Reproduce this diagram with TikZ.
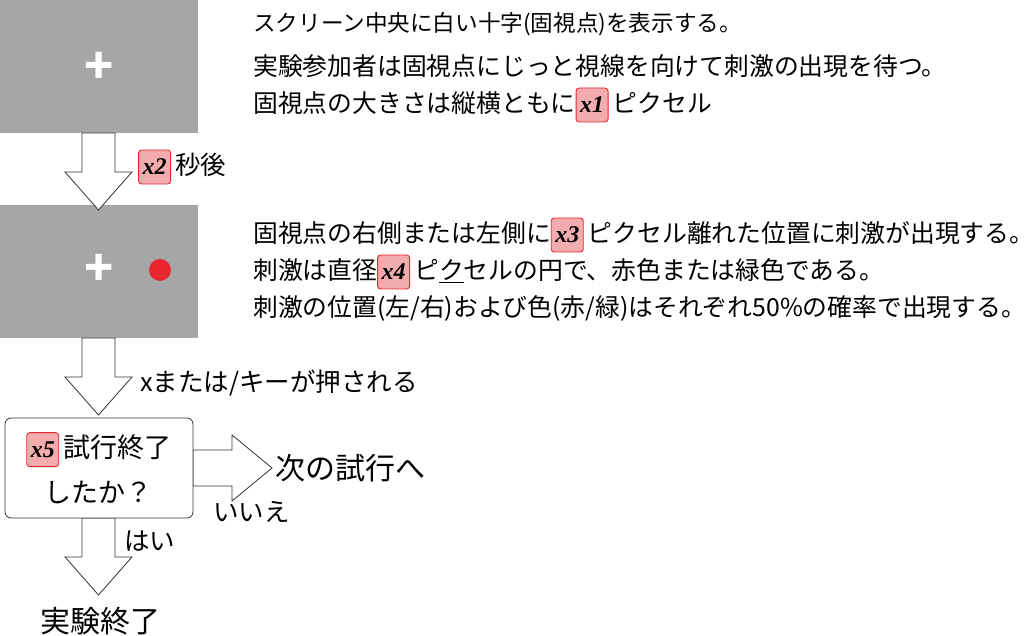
\documentclass[tikz,border=0pt]{standalone}
\usepackage{fontspec}
\setmainfont{Noto Sans CJK JP}
\newfontfamily\badgefont{Liberation Serif}
\usetikzlibrary{positioning}
\definecolor{screengray}{HTML}{A6A6A6}
\definecolor{badgepink}{HTML}{F2ACAE}
\definecolor{badgered}{HTML}{E8262D}
\newcommand{\badge}[1]{\tikz[baseline=(b.base)]\node (b) [draw=badgered, fill=badgepink,
  line width=0.9pt, rounded corners=3pt, inner sep=4pt, minimum width=0pt, minimum height=34pt,
  font=\badgefont\bfseries\itshape\fontsize{24}{24}\selectfont] {#1};}
\newcommand{\downblock}[2]{% x center, y top (tip at +77)
  \draw[blockarrow] (#1-16.5,#2) -- (#1+16.5,#2) -- (#1+16.5,#2+39) -- (#1+33.5,#2+39)
    -- (#1,#2+77) -- (#1-33.5,#2+39) -- (#1-16.5,#2+39) -- cycle;}
\begin{document}
\begin{tikzpicture}[x=1pt,y=-1pt,
  blockarrow/.style={draw=black!80, fill=white, line width=0.8pt},
  screen/.style={fill=screengray, draw=none},
  desc/.style={anchor=west, font=\fontsize{24.8}{28}\selectfont, inner sep=0pt},
  lbl/.style={anchor=west, font=\fontsize{25.5}{28}\selectfont, inner sep=0pt}]
  \useasboundingbox (0,0) rectangle (1034,636);

  % screens
  \fill[screen] (0,0) rectangle (198,133);
  \fill[screen] (0,205) rectangle (198,338);
  \node (fix1) [text=white, font=\fontsize{48}{48}\selectfont\bfseries] at (99,68) {+};
  \node (fix2) [text=white, font=\fontsize{48}{48}\selectfont\bfseries] at (99,270) {+};
  \fill[badgered] (160,270) circle (11);

  % flow arrows
  \downblock{98.5}{133}
  \downblock{98.5}{338}
  \downblock{98.5}{518}
  \draw[blockarrow] (193,450) -- (232,450) -- (232,435) -- (272,468) -- (232,501)
    -- (232,486) -- (193,486) -- cycle;

  % decision box
  \node (check) [draw=black!80, line width=0.8pt, rounded corners=6pt, fill=white,
    minimum width=188pt, minimum height=100pt, align=center,
    font=\fontsize{27}{45}\selectfont] at (99,468) {\badge{x5}\,試行終了\\したか？};

  % labels
  \node (wait) [lbl] at (138,167) {\badge{x2}\,秒後};
  \node (key) [lbl] at (140,383) {xまたは/キーが押される};
  \node (next) [lbl, font=\fontsize{30}{32}\selectfont] at (275,468) {次の試行へ};
  \node (no) [lbl] at (213,512) {いいえ};
  \node (yes) [lbl] at (124,541) {はい};
  \node (finish) [lbl, font=\fontsize{30}{32}\selectfont] at (40,621) {実験終了};

  % descriptions
  \node (d1) [desc, font=\fontsize{22.6}{26}\selectfont] at (253,24) {スクリーン中央に白い十字(固視点)を表示する。};
  \node (d2) [desc] at (253,66) {実験参加者は固視点にじっと視線を向けて刺激の出現を待つ。};
  \node (d3) [desc] at (253,105) {固視点の大きさは縦横ともに\badge{x1}\,ピクセル};
  \node (d4) [desc] at (253,235) {固視点の右側または左側に\badge{x3}\,ピクセル離れた位置に刺激が出現する。};
  \node (d5) [desc] at (253,272) {刺激は直径\badge{x4}\,ピ\underline{ク}セルの円で、赤色または緑色である。};
  \node (d6) [desc] at (253,308) {刺激の位置(左/右)および色(赤/緑)はそれぞれ50\%の確率で出現する。};
\end{tikzpicture}
\end{document}
